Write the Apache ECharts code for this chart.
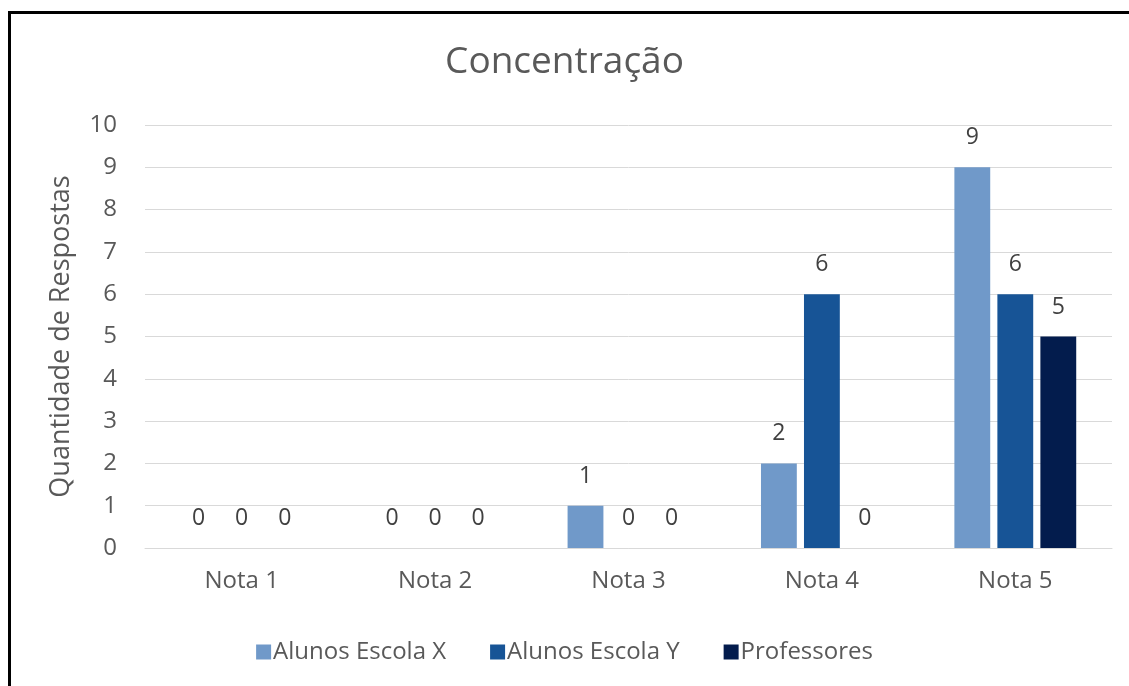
<!DOCTYPE html>
<html>
<head>
<meta charset="utf-8">
<script src="https://cdn.jsdelivr.net/npm/echarts@6/dist/echarts.min.js"></script>
<style>
  html, body { margin: 0; padding: 0; background: #fff; }
  #chart { width: 1129px; height: 686px; position: relative; }
  .frame {
    position: absolute; left: 8px; top: 11px; width: 1200px; height: 800px;
    border-top: 3px solid #000; border-left: 3px solid #000;
    pointer-events: none;
  }
</style>
</head>
<body>
<div style="position:relative;width:1129px;height:686px;overflow:hidden">
  <div id="chart"></div>
  <div class="frame"></div>
</div>
<script>
const categories = ['Nota 1', 'Nota 2', 'Nota 3', 'Nota 4', 'Nota 5']
const escolaX = [0, 0, 1, 2, 9]
const escolaY = [0, 0, 0, 6, 6]
const professores = [0, 0, 0, 0, 5]
const seriesNames = ['Alunos Escola X', 'Alunos Escola Y', 'Professores']
const colors = ['#7099c9', '#175496', '#031c4d']

const font = '"Open Sans", "Noto Sans", sans-serif'
const chart = echarts.init(document.getElementById('chart'))

const labelStyle = {
  show: true,
  position: 'top',
  distance: 18,
  color: '#404040',
  fontSize: 23,
  fontFamily: font,
}

const makeSeries = (name, data, color) => ({
  name,
  type: 'bar',
  data,
  barGap: '20%',
  barCategoryGap: '37%',
  itemStyle: { color },
  label: labelStyle,
})

chart.setOption({
  animation: false,
  color: colors,
  title: {
    text: 'Concentração',
    left: 'center',
    top: 39,
    padding: [5, 0, 5, 18],
    textStyle: { color: '#595959', fontSize: 37, fontWeight: 'normal', fontFamily: font },
  },
  grid: { left: 145, right: 17, top: 125, bottom: 138 },
  legend: {
    top: 635,
    left: 'center',
    padding: [5, 0, 5, 22],
    itemWidth: 15,
    itemHeight: 15,
    itemGap: 44,
    icon: 'rect',
    textStyle: { color: '#595959', fontSize: 24, fontFamily: font, padding: [0, 0, 0, -3] },
    data: seriesNames,
  },
  xAxis: {
    type: 'category',
    data: categories,
    axisLine: { lineStyle: { color: '#d9d9d9', width: 1 } },
    axisTick: { show: false },
    axisLabel: { color: '#595959', fontSize: 24, fontFamily: font, margin: 21 },
  },
  yAxis: {
    type: 'value',
    min: 0,
    max: 10,
    interval: 1,
    name: 'Quantidade de Respostas',
    nameLocation: 'middle',
    nameGap: 70,
    nameTextStyle: { color: '#595959', fontSize: 27, fontFamily: font },
    axisLine: { show: false },
    axisTick: { show: false },
    axisLabel: { color: '#595959', fontSize: 24, fontFamily: font, margin: 28 },
    splitLine: { lineStyle: { color: '#d9d9d9', width: 1 } },
  },
  series: [
    makeSeries(seriesNames[0], escolaX, colors[0]),
    makeSeries(seriesNames[1], escolaY, colors[1]),
    makeSeries(seriesNames[2], professores, colors[2]),
  ],
})
</script>
</body>
</html>
